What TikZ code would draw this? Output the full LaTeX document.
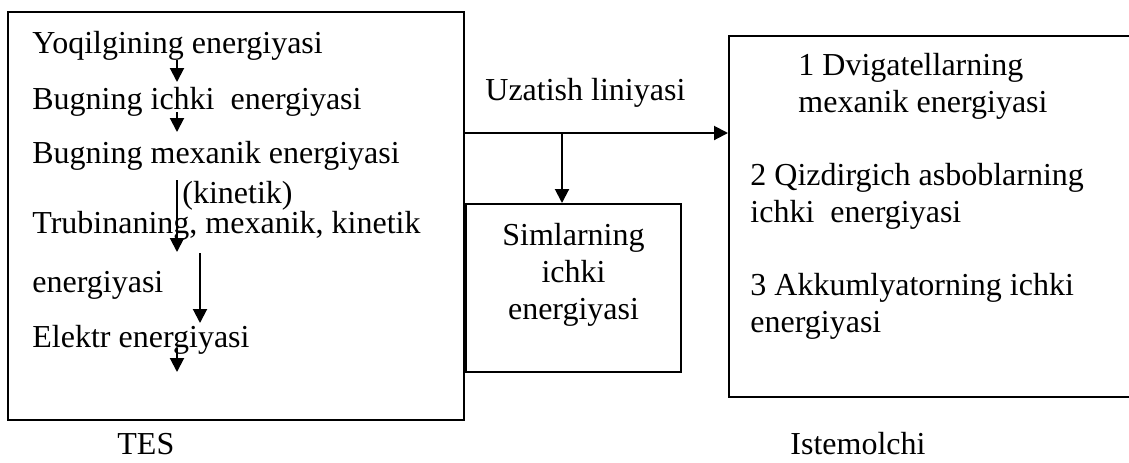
\documentclass[tikz,border=0pt]{standalone}
\usepackage{fontspec}
\setmainfont{Liberation Serif}
\usetikzlibrary{arrows.meta}
\tikzset{
  txt/.style={inner sep=0pt, anchor=base west},
  blk/.style={inner sep=0pt, align=left, anchor=north west},
  box/.style={draw, line width=1pt, inner sep=0pt},
  arr/.style={line width=1pt, -{Triangle[length=7pt,width=7pt]}}
}
\begin{document}
\begin{tikzpicture}[x=0.5pt,y=-0.5pt,font=\fontsize{16}{18.4}\selectfont]
\clip (0,0) rectangle (1129,462);
\node[box, minimum width=228pt, minimum height=204pt] (tes) at (236,216) {};
\node[box, minimum width=107.5pt, minimum height=84pt] (sim) at (573.5,288) {};
\node[box, minimum width=210pt, minimum height=180.5pt] (ist) at (939,216.5) {};
\node[txt] (yoq) at (32,53) {Yoqilgining energiyasi};
\node[txt] (bich) at (32,109) {Bugning ichki\ \ energiyasi};
\node[txt] (bmex) at (32,163) {Bugning mexanik energiyasi};
\node[txt] (kin) at (182,203) {(kinetik)};
\node[txt] (trub) at (32,233) {Trubinaning, mexanik, kinetik};
\node[txt] (trube) at (32,292) {energiyasi};
\node[txt] (elek) at (32,347) {Elektr energiyasi};
\node[txt] (tesl) at (117,454) {TES};
\node[txt] (uzat) at (485,100) {Uzatish liniyasi};
\node[inner sep=0pt, align=center, anchor=north] (simt) at (573.5,223) {Simlarning\\ichki\\energiyasi};
\node[blk] (dvig) at (798,53) {1 Dvigatellarning\\mexanik energiyasi};
\node[blk] (qizd) at (750,163) {2 Qizdirgich asboblarning\\ichki\ \ energiyasi};
\node[blk] (akku) at (750,273) {3 Akkumlyatorning ichki\\energiyasi};
\node[txt] (istl) at (790,454) {Istemolchi};
\coordinate (a1) at (177,60);
\coordinate (b1) at (177,82);
\coordinate (a2) at (177,112);
\coordinate (b2) at (177,132);
\coordinate (a3) at (177,180);
\coordinate (b3) at (177,252);
\coordinate (a4) at (200,253);
\coordinate (b4) at (200,323);
\coordinate (a5) at (177,348);
\coordinate (b5) at (177,372);
\coordinate (split) at (562,133);
\draw[arr] (a1) -- (b1);
\draw[arr] (a2) -- (b2);
\draw[arr] (a3) -- (b3);
\draw[arr] (a4) -- (b4);
\draw[arr] (a5) -- (b5);
\draw[arr] (tes.east |- split) -- (ist.west |- split);
\draw[arr] (split) -- (sim.north -| split);
\end{tikzpicture}
\end{document}
